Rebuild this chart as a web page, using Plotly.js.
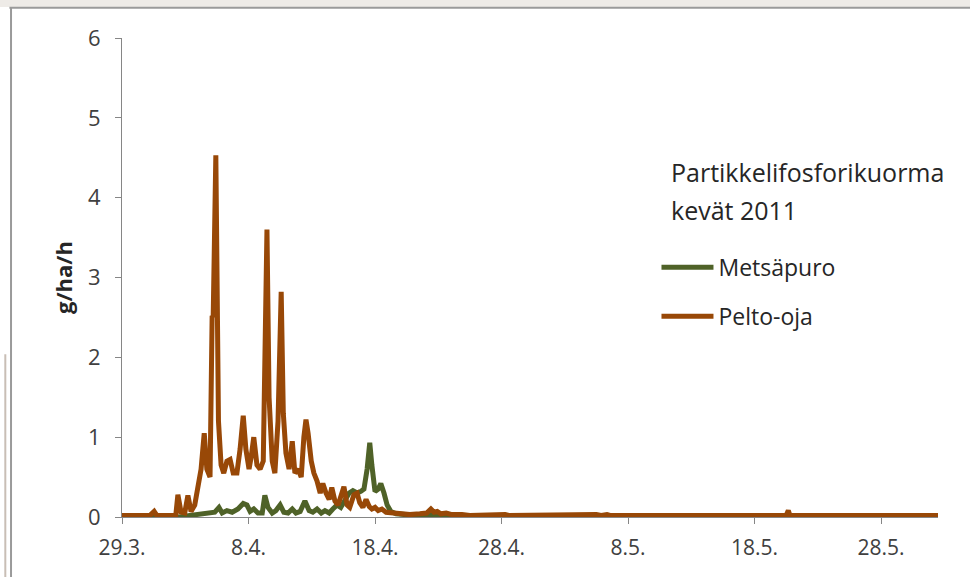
<!DOCTYPE html>
<html>
<head>
<meta charset="utf-8">
<script src="https://cdn.plot.ly/plotly-3.0.1.min.js"></script>
<style>
html,body{margin:0;padding:0;background:#fff;}
#chart{width:970px;height:577px;}
</style>
</head>
<body>
<div id="chart"></div>
<script>
// Pelto-oja (field ditch), g/ha/h
const peltoTime = [
"2011-03-29 00:00","2011-03-31 05:00","2011-03-31 13:00","2011-03-31 18:00","2011-04-02 06:00","2011-04-02 10:00",
"2011-04-02 16:00","2011-04-02 23:00","2011-04-03 05:00","2011-04-03 11:00","2011-04-03 18:00","2011-04-04 02:00",
"2011-04-04 06:00","2011-04-04 12:00","2011-04-04 17:00","2011-04-04 23:00","2011-04-05 03:00","2011-04-05 05:00",
"2011-04-05 10:00","2011-04-05 15:00","2011-04-05 20:00","2011-04-06 01:00","2011-04-06 07:00","2011-04-06 13:00",
"2011-04-06 19:00","2011-04-07 02:00","2011-04-07 08:00","2011-04-07 14:00","2011-04-07 19:00","2011-04-08 01:00",
"2011-04-08 05:00","2011-04-08 10:00","2011-04-08 16:00","2011-04-08 22:00","2011-04-09 04:00","2011-04-09 06:00",
"2011-04-09 11:00","2011-04-09 15:00","2011-04-09 21:00","2011-04-10 02:00","2011-04-10 08:00","2011-04-10 14:00",
"2011-04-10 18:00","2011-04-10 23:00","2011-04-11 05:00","2011-04-11 11:00","2011-04-11 16:00","2011-04-11 22:00",
"2011-04-12 04:00","2011-04-12 09:00","2011-04-12 13:00","2011-04-12 17:00","2011-04-12 23:00","2011-04-13 04:00",
"2011-04-13 10:00","2011-04-13 16:00","2011-04-13 21:00","2011-04-14 03:00","2011-04-14 09:00","2011-04-14 14:00",
"2011-04-14 20:00","2011-04-15 02:00","2011-04-15 07:00","2011-04-15 13:00","2011-04-15 19:00","2011-04-16 00:00",
"2011-04-16 08:00","2011-04-16 14:00","2011-04-16 19:00","2011-04-17 01:00","2011-04-17 07:00","2011-04-17 13:00",
"2011-04-17 18:00","2011-04-18 00:00","2011-04-18 06:00","2011-04-18 13:00","2011-04-18 21:00","2011-04-19 08:00",
"2011-04-19 23:00","2011-04-20 18:00","2011-04-21 13:00","2011-04-22 02:00","2011-04-22 10:00","2011-04-22 16:00",
"2011-04-22 22:00","2011-04-23 05:00","2011-04-23 15:00","2011-04-24 02:00","2011-04-24 21:00","2011-04-25 12:00",
"2011-04-28 07:00","2011-04-28 14:00","2011-05-05 12:00","2011-05-05 21:00","2011-05-06 08:00","2011-05-06 14:00",
"2011-05-20 12:00","2011-05-20 16:00","2011-05-20 19:00","2011-06-01 12:00"
];
const peltoValues = [
0.02,0.02,0.07,0.02,0.02,0.28,
0.06,0.05,0.27,0.07,0.15,0.45,
0.60,1.05,0.60,0.50,2.52,2.50,
4.53,1.20,0.65,0.55,0.70,0.72,
0.55,0.55,0.85,1.27,0.85,0.60,
0.75,1.00,0.65,0.60,0.70,1.50,
3.60,1.50,0.70,0.55,1.20,2.82,
1.30,0.80,0.60,0.95,0.55,0.60,
0.50,1.00,1.22,1.05,0.70,0.55,
0.45,0.30,0.42,0.30,0.22,0.37,
0.20,0.15,0.25,0.38,0.15,0.12,
0.28,0.30,0.18,0.12,0.22,0.13,
0.10,0.12,0.08,0.10,0.06,0.05,
0.04,0.03,0.04,0.05,0.10,0.06,
0.07,0.04,0.05,0.03,0.03,0.02,
0.03,0.02,0.03,0.02,0.03,0.02,
0.02,0.08,0.02,0.02
];

// Metsäpuro (forest brook), g/ha/h
const metsaTime = [
"2011-03-29 00:00","2011-04-02 14:00","2011-04-03 09:00","2011-04-04 04:00","2011-04-04 23:00","2011-04-05 08:00",
"2011-04-05 16:00","2011-04-05 22:00","2011-04-06 07:00","2011-04-06 17:00","2011-04-07 04:00","2011-04-07 14:00",
"2011-04-07 21:00","2011-04-08 03:00","2011-04-08 10:00","2011-04-08 18:00","2011-04-09 02:00","2011-04-09 07:00",
"2011-04-09 13:00","2011-04-09 21:00","2011-04-10 04:00","2011-04-10 12:00","2011-04-10 19:00","2011-04-11 03:00",
"2011-04-11 11:00","2011-04-11 18:00","2011-04-12 02:00","2011-04-12 11:00","2011-04-12 19:00","2011-04-13 02:00",
"2011-04-13 10:00","2011-04-13 18:00","2011-04-14 01:00","2011-04-14 09:00","2011-04-14 16:00","2011-04-15 00:00",
"2011-04-15 07:00","2011-04-15 15:00","2011-04-15 23:00","2011-04-16 06:00","2011-04-16 14:00","2011-04-16 21:00",
"2011-04-17 03:00","2011-04-17 09:00","2011-04-17 14:00","2011-04-17 18:00","2011-04-18 00:00","2011-04-18 06:00",
"2011-04-18 11:00","2011-04-18 17:00","2011-04-18 23:00","2011-04-19 06:00","2011-04-19 16:00","2011-04-20 09:00",
"2011-04-21 13:00","2011-04-23 03:00","2011-04-25 12:00","2011-06-01 12:00"
];
const metsaValues = [
0.00,0.00,0.02,0.04,0.05,0.06,
0.12,0.05,0.08,0.06,0.10,0.17,
0.15,0.07,0.10,0.05,0.05,0.27,
0.12,0.05,0.08,0.15,0.06,0.05,
0.10,0.05,0.07,0.20,0.08,0.06,
0.10,0.05,0.08,0.05,0.10,0.15,
0.12,0.20,0.30,0.33,0.30,0.32,
0.35,0.60,0.93,0.65,0.32,0.35,
0.42,0.30,0.15,0.07,0.04,0.03,
0.02,0.01,0.00,0.00
];

const xTickVals = ["2011-03-29","2011-04-08","2011-04-18","2011-04-28","2011-05-08","2011-05-18","2011-05-28"];
const xTickText = ["29.3.","8.4.","18.4.","28.4.","8.5.","18.5.","28.5."];
const yTickVals = [0,1,2,3,4,5,6];

const seriesNames = ["Metsäpuro","Pelto-oja"];
const titleLines = ["Partikkelifosforikuorma","kevät 2011"];
const yTitle = "g/ha/h";

const FONT = "Open Sans, Noto Sans, sans-serif";
const GREEN = "#4F6228";
const ORANGE = "#984807";

const traces = [
  {x: metsaTime, y: metsaValues, name: seriesNames[0], type: "scatter", mode: "lines",
   line: {color: GREEN, width: 5, shape: "linear"}, legendgroup: "a"},
  {x: peltoTime, y: peltoValues, name: seriesNames[1], type: "scatter", mode: "lines",
   line: {color: ORANGE, width: 5, shape: "linear"}, legendgroup: "b"}
];

const layout = {
  width: 970, height: 577,
  margin: {l: 122, r: 32, t: 38, b: 60, pad: 0},
  paper_bgcolor: "#ffffff", plot_bgcolor: "#ffffff",
  font: {family: FONT, color: "#404040", size: 20},
  showlegend: true,
  legend: {
    x: 0.655, y: 0.47, xanchor: "left", yanchor: "middle",
    font: {family: FONT, size: 23, color: "#262626"},
    bgcolor: "rgba(0,0,0,0)", borderwidth: 0,
    traceorder: "grouped", tracegroupgap: 16, itemwidth: 52
  },
  xaxis: {
    type: "date",
    range: ["2011-03-29 00:00", "2011-06-01 12:00"],
    tickvals: xTickVals, ticktext: xTickText, tickmode: "array",
    ticks: "outside", ticklen: 6, tickcolor: "#868686", tickwidth: 1,
    showline: true, linecolor: "#868686", linewidth: 1,
    showgrid: false, zeroline: false, ticklabelstandoff: 6,
    tickfont: {family: FONT, size: 21, color: "#404040"}
  },
  yaxis: {
    range: [0, 6], tickvals: yTickVals, tickmode: "array",
    ticks: "outside", ticklen: 6, tickcolor: "#868686", tickwidth: 1,
    showline: true, linecolor: "#868686", linewidth: 1,
    showgrid: false, zeroline: false, ticklabelstandoff: 10,
    tickfont: {family: FONT, size: 22, color: "#404040"},
    title: {text: "<b>" + yTitle + "</b>", font: {family: FONT, size: 22, color: "#262626"}, standoff: 9}
  },
  annotations: [
    {text: titleLines[0], xref: "paper", yref: "paper", x: 0.670, y: (517-172)/479, xanchor: "left", yanchor: "middle",
     showarrow: false, align: "left", font: {family: FONT, size: 25, color: "#262626"}},
    {text: titleLines[1], xref: "paper", yref: "paper", x: 0.670, y: (517-210)/479, xanchor: "left", yanchor: "middle",
     showarrow: false, align: "left", font: {family: FONT, size: 25, color: "#262626"}}
  ],
  shapes: [
    {type: "rect", xref: "paper", yref: "paper", x0: -0.2, x1: 1.1, y0: 1.0647, y1: 1.1, fillcolor: "#EEEBE7", line: {width: 0}, layer: "below"},
    {type: "line", xref: "paper", yref: "paper", x0: -0.138, x1: 1.1, y0: 1.063, y1: 1.063, line: {color: "#9A9A9A", width: 2}},
    {type: "line", xref: "paper", yref: "paper", x0: -0.136, x1: -0.136, y0: 1.063, y1: -0.2, line: {color: "#9A9A9A", width: 2}},
    {type: "line", xref: "paper", yref: "paper", x0: -0.143, x1: -0.143, y0: 0.34, y1: -0.2, line: {color: "#C9BEB5", width: 2}}
  ]
};

Plotly.newPlot("chart", traces, layout, {displayModeBar: false, staticPlot: true});
</script>
</body>
</html>
